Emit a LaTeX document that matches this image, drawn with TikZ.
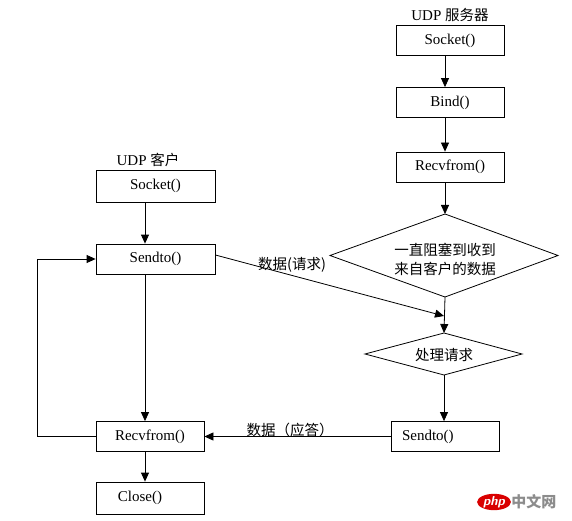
\documentclass[tikz,border=0pt]{standalone}
\usepackage{fontspec}
\setmainfont{Liberation Serif}
\newfontfamily\cjk{Noto Sans CJK SC}
\usetikzlibrary{arrows.meta,shapes.geometric}
\begin{document}
\begin{tikzpicture}[x=1pt,y=-1pt,
  line width=0.8pt,
  box/.style={draw, rectangle, inner sep=0pt, minimum width=108pt, minimum height=30pt, font=\fontsize{15}{17}\selectfont},
  dtext/.style={inner sep=0pt, align=center, font=\cjk\fontsize{14.5}{19}\selectfont},
  lbl/.style={inner sep=0pt, font=\fontsize{15}{17}\selectfont},
  clbl/.style={inner sep=0pt, font=\cjk\fontsize{14.5}{16}\selectfont},
  arr/.style={-{Triangle[length=9pt,width=8pt]}}
]
\useasboundingbox (0,0) rectangle (572,521);
\fill[white] (0,0) rectangle (572,521);

% server
\node[lbl] (stitle) at (450,15) {UDP {\cjk\fontsize{14.5}{16}\selectfont 服务器}};
\node[box] (ssock) at (450,40.5) {Socket()};
\node[box] (sbind) at (450,102.5) {Bind()};
\node[box] (srecv) at (450,167) {Recvfrom()};

% big diamond
\coordinate (wt) at (445,214);
\coordinate (wr) at (558,255.5);
\coordinate (wb) at (445,297);
\coordinate (wl) at (330,255.5);
\draw (wt) -- (wr) -- (wb) -- (wl) -- cycle;
\node[dtext] (wait) at (445,259) {一直阻塞到收到\\来自客户的数据};

% small diamond
\coordinate (pt) at (444,333);
\coordinate (pr) at (522,354);
\coordinate (pb) at (444,375);
\coordinate (pl) at (365,354);
\draw (pt) -- (pr) -- (pb) -- (pl) -- cycle;
\node[dtext] (proc) at (444,355) {处理请求};

\node[box, text width=86pt, align=left] (ssend) at (445,436.5) {Sendto()};

% client
\node[lbl] (ctitle) at (148,160) {UDP {\cjk\fontsize{14.5}{16}\selectfont 客户}};
\node[box, minimum width=119pt, minimum height=32pt] (csock) at (155.5,186) {Socket()};
\node[box, minimum width=119pt] (csend) at (155.5,259) {Sendto()};
\node[box] (crecv) at (150,436.5) {Recvfrom()};
\node[box, minimum height=32pt] (cclose) at (150,498) {\hspace*{-20pt}Close()};

% server flow
\draw[arr] (ssock.south -| 445,0) -- (sbind.north -| 445,0);
\draw[arr] (sbind.south -| 445,0) -- (srecv.north -| 445,0);
\draw[arr] (srecv.south -| wt) -- (wt);
\draw[arr] (wb) -- (pt);
\draw[arr] (pb) -- (ssend.north -| pb);

% client flow
\draw[arr] (csock.south -| 145,0) -- (csend.north -| 145,0);
\draw[arr] (csend.south -| 145,0) -- (crecv.north -| 145,0);
\draw[arr] (crecv.south -| 145,0) -- (cclose.north -| 145,0);
\coordinate (loopA) at (37,436.5);
\coordinate (loopB) at (37,259);
\draw[arr] (crecv.west) -- (loopA) -- (loopB) -- (csend.west);

% messages
\coordinate (reqend) at (444,316);
\draw[arr] (csend.east |- 0,255) -- (reqend);
\node[clbl] (reqlbl) at (292,265) {数据(请求)};
\draw[arr] (ssend.west) -- (crecv.east);
\node[clbl] (replbl) at (290,430) {数据（应答）};

% watermark
\node[fill=red!85!black, ellipse, inner xsep=1pt, inner ysep=0pt, minimum height=16pt, text=white, font=\sffamily\bfseries\itshape\fontsize{13}{13}\selectfont] (wmphp) at (494,502) {php};
\node[inner sep=0pt, text=black!45, font=\cjk\bfseries\fontsize{15}{15}\selectfont, anchor=west] (wmcn) at (511,502) {中文网};
\end{tikzpicture}
\end{document}
